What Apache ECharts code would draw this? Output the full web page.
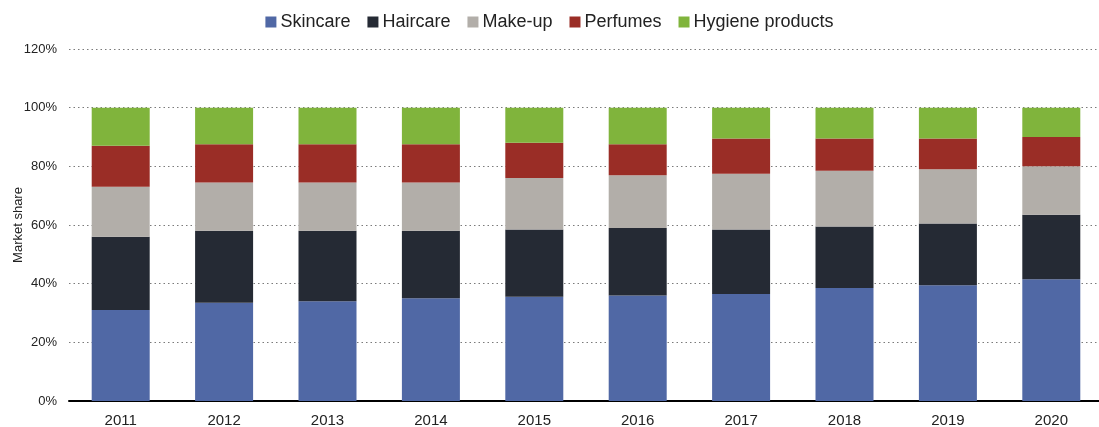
<!DOCTYPE html>
<html>
<head>
<meta charset="utf-8">
<script src="https://cdn.jsdelivr.net/npm/echarts@6/dist/echarts.min.js"></script>
<style>
  html, body { margin: 0; padding: 0; background: #ffffff; }
  #chart { width: 1099px; height: 427px; }
</style>
</head>
<body>
<div id="chart"></div>
<script>
// Market share by product category, in percent of the total (each year sums to 100)
const years = ['2011', '2012', '2013', '2014', '2015', '2016', '2017', '2018', '2019', '2020'];
const skincare = [31, 33.5, 34, 35, 35.5, 36, 36.5, 38.5, 39.5, 41.5];
const haircare = [25, 24.5, 24, 23, 23, 23, 22, 21, 21, 22];
const makeup   = [17, 16.5, 16.5, 16.5, 17.5, 18, 19, 19, 18.5, 16.5];
const perfumes = [14, 13, 13, 13, 12, 10.5, 12, 11, 10.5, 10];
const hygiene  = [13, 12.5, 12.5, 12.5, 12, 12.5, 10.5, 10.5, 10.5, 10];
const yTicks = [0, 20, 40, 60, 80, 100, 120];

const seriesDefs = [
  { name: 'Skincare', data: skincare, color: '#5068a5' },
  { name: 'Haircare', data: haircare, color: '#252a34' },
  { name: 'Make-up', data: makeup, color: '#b2aea9' },
  { name: 'Perfumes', data: perfumes, color: '#9a2d26' },
  { name: 'Hygiene products', data: hygiene, color: '#80b43c' }
];

const font = '"Liberation Sans", Arial, sans-serif';
const chart = echarts.init(document.getElementById('chart'), null, { renderer: 'canvas' });

chart.setOption({
  animation: false,
  textStyle: { fontFamily: font },
  legend: {
    top: 8,
    left: 'center',
    itemWidth: 11,
    itemHeight: 11,
    itemGap: 17,
    icon: 'rect',
    textStyle: { fontFamily: font, fontSize: 18, color: '#222', padding: [0, 0, 0, -1] },
    data: seriesDefs.map(s => s.name)
  },
  // the plot runs slightly past the right edge of the canvas
  grid: { left: 69, width: 1034, top: 49, bottom: 26, containLabel: false, outerBoundsMode: 'none' },
  xAxis: {
    type: 'category',
    data: years,
    axisLine: { lineStyle: { color: '#000', width: 2 } },
    axisTick: { show: false },
    axisLabel: { fontFamily: font, fontSize: 15, color: '#222', margin: 12 }
  },
  yAxis: {
    type: 'value',
    min: yTicks[0],
    max: yTicks[yTicks.length - 1],
    interval: 20,
    name: 'Market share',
    nameLocation: 'middle',
    nameGap: 44,
    nameMoveOverlap: false,
    nameTextStyle: { fontFamily: font, fontSize: 13, color: '#222' },
    axisLine: { show: false },
    axisTick: { show: false },
    axisLabel: { fontFamily: font, fontSize: 13, color: '#222', margin: 12, formatter: '{value}%' },
    splitLine: { lineStyle: { color: '#7a7a7a', width: 1, type: [1.5, 3] } }
  },
  series: seriesDefs.map(s => ({
    name: s.name,
    type: 'bar',
    stack: 'share',
    barWidth: 58,
    data: s.data,
    itemStyle: { color: s.color }
  }))
});
</script>
</body>
</html>
